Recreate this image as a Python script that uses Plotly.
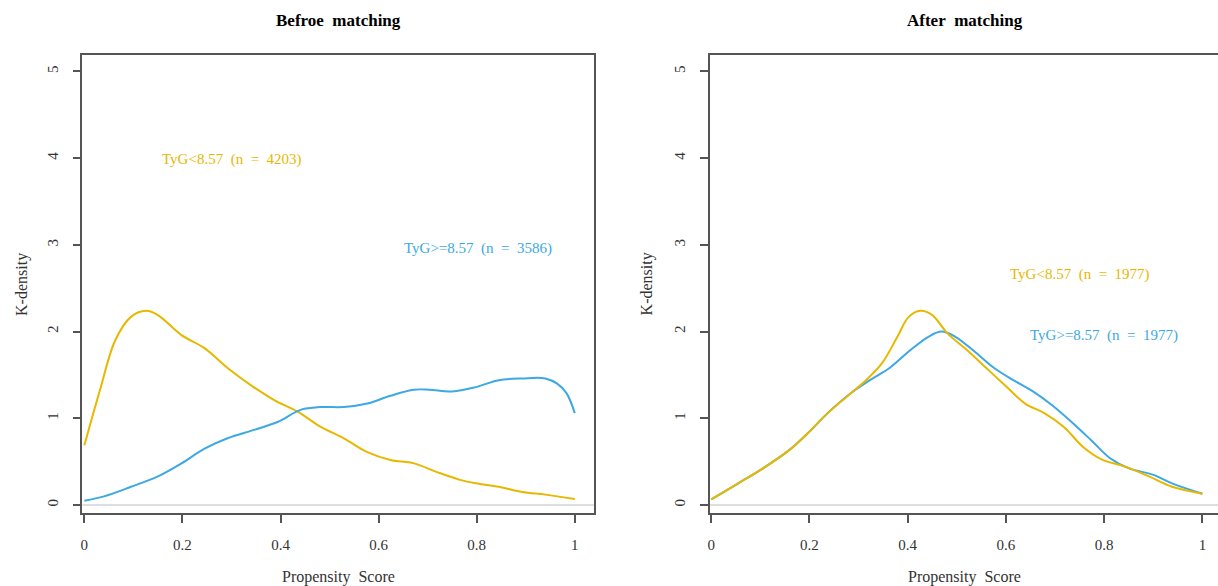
import plotly.graph_objects as go

# ---- data ----
before_low_x = [0, 0.032, 0.063, 0.095, 0.126, 0.15, 0.198, 0.245, 0.292, 0.34, 0.387, 0.434,
                0.482, 0.529, 0.577, 0.624, 0.672, 0.719, 0.766, 0.798, 0.845, 0.893, 0.94, 1.0]
before_low_y = [0.69, 1.33, 1.90, 2.17, 2.24, 2.19, 1.96, 1.81, 1.58, 1.38, 1.21, 1.08,
                0.90, 0.77, 0.61, 0.52, 0.48, 0.38, 0.29, 0.25, 0.21, 0.15, 0.12, 0.07]
before_high_x = [0, 0.04, 0.095, 0.15, 0.198, 0.245, 0.292, 0.348, 0.395, 0.442, 0.482, 0.529,
                 0.577, 0.624, 0.672, 0.703, 0.75, 0.798, 0.845, 0.893, 0.94, 0.964, 0.983, 1.0]
before_high_y = [0.05, 0.10, 0.21, 0.33, 0.48, 0.65, 0.77, 0.87, 0.96, 1.10, 1.13, 1.13,
                 1.17, 1.26, 1.33, 1.33, 1.31, 1.36, 1.44, 1.46, 1.46, 1.40, 1.29, 1.06]
after_low_x = [0, 0.055, 0.11, 0.158, 0.197, 0.237, 0.276, 0.315, 0.347, 0.379, 0.402, 0.426,
               0.45, 0.481, 0.52, 0.56, 0.6, 0.639, 0.678, 0.718, 0.757, 0.797, 0.844, 0.891,
               0.938, 1.0]
after_low_y = [0.065, 0.25, 0.44, 0.63, 0.83, 1.06, 1.25, 1.44, 1.63, 1.94, 2.17, 2.24,
               2.19, 1.98, 1.79, 1.58, 1.37, 1.17, 1.06, 0.90, 0.67, 0.52, 0.44, 0.33,
               0.21, 0.13]
after_high_x = [0, 0.055, 0.11, 0.158, 0.197, 0.237, 0.284, 0.323, 0.363, 0.402, 0.442, 0.469,
                0.497, 0.536, 0.576, 0.615, 0.655, 0.694, 0.733, 0.773, 0.812, 0.852, 0.899,
                0.938, 1.0]
after_high_y = [0.065, 0.25, 0.44, 0.63, 0.83, 1.06, 1.29, 1.44, 1.58, 1.77, 1.94, 2.0,
                1.94, 1.77, 1.58, 1.44, 1.31, 1.15, 0.96, 0.75, 0.54, 0.42, 0.35,
                0.25, 0.13]

panel_titles = ["Befroe  matching", "After  matching"]
label_low = ["TyG<8.57  (n  =  4203)", "TyG<8.57  (n  =  1977)"]
label_high = ["TyG>=8.57  (n  =  3586)", "TyG>=8.57  (n  =  1977)"]
x_ticks = [0, 0.2, 0.4, 0.6, 0.8, 1]
x_tick_text = ["0", "0.2", "0.4", "0.6", "0.8", "1"]
y_ticks = [0, 1, 2, 3, 4, 5]

GOLD = "#E7B800"
BLUE = "#3DA8E2"
SERIF = "Liberation Serif, Times New Roman, serif"
AX = "#555555"
NB = "\u00a0"


def sp(s):
    return s.replace("  ", NB + NB)


W, H = 1218, 586

fig = go.Figure()
fig.add_trace(go.Scatter(x=before_low_x, y=before_low_y, mode="lines", line=dict(color=GOLD, width=2, shape="spline"),
                         xaxis="x", yaxis="y", showlegend=False, hoverinfo="skip"))
fig.add_trace(go.Scatter(x=before_high_x, y=before_high_y, mode="lines", line=dict(color=BLUE, width=2, shape="spline"),
                         xaxis="x", yaxis="y", showlegend=False, hoverinfo="skip"))
fig.add_trace(go.Scatter(x=after_high_x, y=after_high_y, mode="lines", line=dict(color=BLUE, width=2, shape="spline"),
                         xaxis="x2", yaxis="y2", showlegend=False, hoverinfo="skip"))
fig.add_trace(go.Scatter(x=after_low_x, y=after_low_y, mode="lines", line=dict(color=GOLD, width=2, shape="spline"),
                         xaxis="x2", yaxis="y2", showlegend=False, hoverinfo="skip"))

ybot, ytop = (586 - 513) / H, (586 - 55) / H
common_x = dict(showgrid=False, zeroline=False, showline=True, linecolor=AX, linewidth=1.5, mirror=True,
                ticks="outside", ticklen=8, tickcolor=AX, tickwidth=1.5, tickvals=x_ticks, ticktext=x_tick_text,
                tickfont=dict(family=SERIF, size=15, color="#333333"), ticklabelstandoff=9)
common_y = dict(showgrid=False, zeroline=False, showline=True, linecolor=AX, linewidth=1.5,
                ticks="outside", ticklen=8, tickcolor=AX, tickwidth=1.5, tickvals=y_ticks,
                tickangle=-90, tickfont=dict(family=SERIF, size=15, color="#333333"),
                range=[-0.092, 5.19], domain=[ybot, ytop], ticklabelstandoff=9)

fig.update_layout(
    width=W, height=H, margin=dict(l=0, r=0, t=0, b=0),
    plot_bgcolor="white", paper_bgcolor="white",
    xaxis=dict(domain=[79.6 / W, 592.2 / W], range=[-0.004, 1.0386], anchor="y", **common_x),
    yaxis=dict(anchor="x", mirror=True, **common_y),
    xaxis2=dict(domain=[708.8 / W, 1.0], range=[-0.0024, 1.0317], anchor="y2", **common_x),
    yaxis2=dict(anchor="x2", mirror=False, **common_y),
)

# reference line at zero
for xr, yr in (("x", "y"), ("x2", "y2")):
    fig.add_shape(type="line", xref=f"{xr} domain", yref=yr, x0=0, x1=1, y0=0, y1=0,
                  line=dict(color="#D3D3D3", width=1.5), layer="below")

# titles and axis titles
centers = [336 / W, 964 / W]
ylab_x = [19 / W, 646 / W]
for i in range(2):
    fig.add_annotation(text=f"<b>{sp(panel_titles[i])}</b>", xref="paper", yref="paper", x=centers[i], y=(586 - 21) / H,
                       showarrow=False, font=dict(family=SERIF, size=17, color="black"), xanchor="center", yanchor="middle")
    fig.add_annotation(text=sp("Propensity  Score"), xref="paper", yref="paper", x=centers[i], y=(586 - 577) / H,
                       showarrow=False, font=dict(family=SERIF, size=16, color="#333333"), xanchor="center", yanchor="middle")
    fig.add_annotation(text="K-density", xref="paper", yref="paper", x=ylab_x[i], y=(586 - 284) / H, textangle=-90,
                       showarrow=False, font=dict(family=SERIF, size=16, color="#333333"), xanchor="center", yanchor="middle")

# group labels
fig.add_annotation(text=sp(label_low[0]), xref="x", yref="y", x=0.30, y=3.98, showarrow=False,
                   font=dict(family=SERIF, size=15, color=GOLD))
fig.add_annotation(text=sp(label_high[0]), xref="x", yref="y", x=0.802, y=2.96, showarrow=False,
                   font=dict(family=SERIF, size=15, color=BLUE))
fig.add_annotation(text=sp(label_low[1]), xref="x2", yref="y2", x=0.75, y=2.66, showarrow=False,
                   font=dict(family=SERIF, size=15, color=GOLD))
fig.add_annotation(text=sp(label_high[1]), xref="x2", yref="y2", x=0.80, y=1.96, showarrow=False,
                   font=dict(family=SERIF, size=15, color=BLUE))

fig.write_html("out.html", config={"displayModeBar": False},
               post_script="document.body.style.margin='0px';document.body.style.overflow='hidden';")
